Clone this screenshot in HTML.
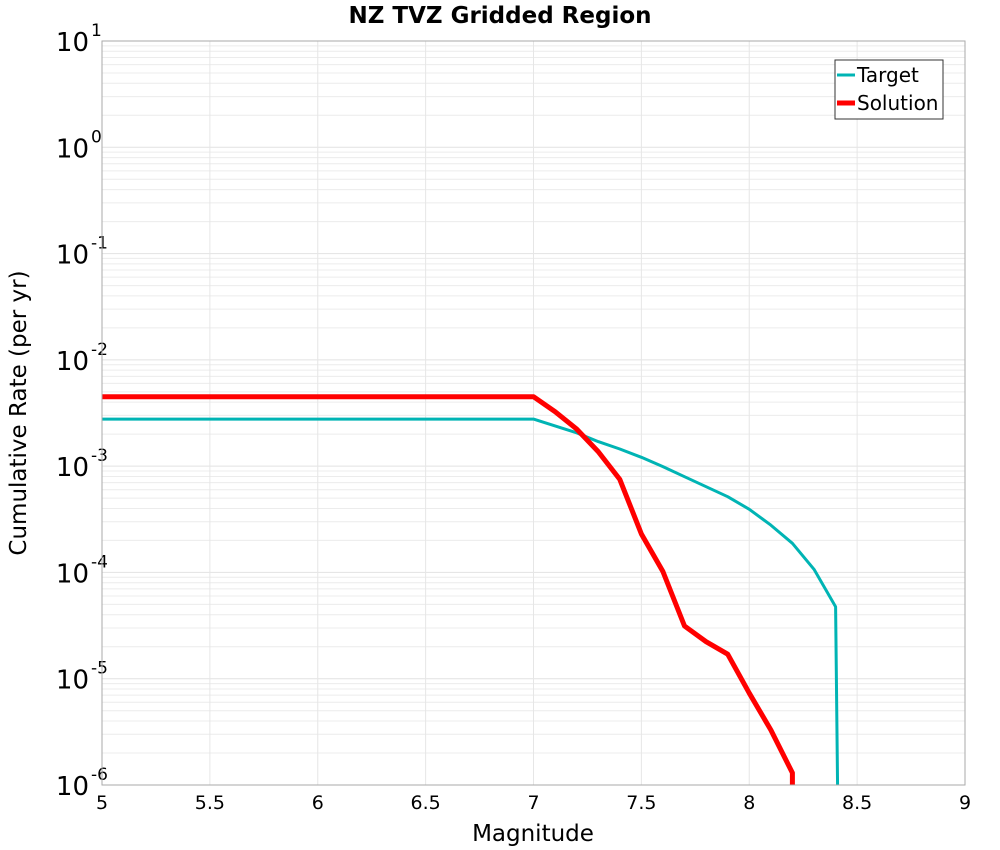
<!DOCTYPE html>
<html><head><meta charset="utf-8"><style>
html,body{margin:0;padding:0;background:#fff;overflow:hidden;width:1000px;height:850px;}
svg{display:block;}
svg text{font-family:"DejaVu Sans","Liberation Sans",sans-serif;}
</style></head><body>
<svg id="chart" width="1000" height="850" xmlns="http://www.w3.org/2000/svg">
<text x="500" y="23" text-anchor="middle" font-size="23" font-weight="bold">NZ TVZ Gridded Region</text>
<g id="grid"></g>
<g id="yticks"></g>
<g id="xticks"></g>
<defs><clipPath id="clip"><rect x="102" y="41" width="863" height="744"/></clipPath></defs>
<g id="series" clip-path="url(#clip)"></g>
<rect x="102" y="41" width="863" height="744" fill="none" stroke="#aaa" stroke-width="1"/>
<text x="533" y="841" text-anchor="middle" font-size="23">Magnitude</text>
<text transform="translate(26,413) rotate(-90)" text-anchor="middle" font-size="23">Cumulative Rate (per yr)</text>
<g>
<rect x="835" y="60" width="108" height="59" fill="#fff" stroke="#333" stroke-width="1"/>
<line x1="837" y1="75" x2="855" y2="75" stroke="#00b4b4" stroke-width="3"/>
<text x="857" y="82" font-size="20">Target</text>
<line x1="837" y1="103" x2="855" y2="103" stroke="#ff0000" stroke-width="5"/>
<text x="857" y="110" font-size="20">Solution</text>
</g>
</svg>
<script>
const targetMag = [5.0, 7.0, 7.1, 7.2, 7.3, 7.4, 7.5, 7.6, 7.7, 7.8, 7.9, 8.0, 8.1, 8.2, 8.3, 8.4, 8.42];
const targetRate = [2.77e-3, 2.77e-3, 2.39e-3, 2.06e-3, 1.70e-3, 1.45e-3, 1.21e-3, 9.9e-4, 7.96e-4, 6.4e-4, 5.16e-4, 3.93e-4, 2.79e-4, 1.88e-4, 1.07e-4, 4.76e-5, 1e-8];
const solutionMag = [5.0, 7.0, 7.1, 7.2, 7.3, 7.4, 7.5, 7.6, 7.7, 7.8, 7.9, 8.0, 8.1, 8.2, 8.2];
const solutionRate = [4.5e-3, 4.5e-3, 3.25e-3, 2.23e-3, 1.37e-3, 7.5e-4, 2.3e-4, 1.02e-4, 3.13e-5, 2.23e-5, 1.7e-5, 7.3e-6, 3.3e-6, 1.3e-6, 1e-8];
const xTicks = [5, 5.5, 6, 6.5, 7, 7.5, 8, 8.5, 9];
const xTickLabels = ["5","5.5","6","6.5","7","7.5","8","8.5","9"];
const yExps = [1, 0, -1, -2, -3, -4, -5, -6];

const NS = "http://www.w3.org/2000/svg";
const X0 = 102, X1 = 965, Y0 = 41, Y1 = 785;
function xs(m){ return X0 + (m - 5) / 4 * (X1 - X0); }
function ys(v){ return Y1 - (Math.log10(v) + 6) / 7 * (Y1 - Y0); }
function mk(tag, attrs, parent){ const e = document.createElementNS(NS, tag); for (const k in attrs) e.setAttribute(k, attrs[k]); parent.appendChild(e); return e; }

const grid = document.getElementById('grid');
for (let d = -6; d < 1; d++) {
  for (let k = 2; k <= 9; k++) {
    const y = ys(k * Math.pow(10, d));
    const l = mk('line', {x1: X0, x2: X1, y1: y, y2: y, stroke: '#ececec', 'stroke-width': 1}, grid);
    
    
  }
}
yExps.forEach(e => {
  const y = ys(Math.pow(10, e));
  const l = mk('line', {x1: X0, x2: X1, y1: y, y2: y, stroke: '#e2e2e2', 'stroke-width': 1}, grid);
  
  
});
xTicks.forEach(t => {
  const x = xs(t);
  const l = mk('line', {x1: x, x2: x, y1: Y0, y2: Y1, stroke: '#e6e6e6', 'stroke-width': 1}, grid);
  
  
});

const yt = document.getElementById('yticks');
yExps.forEach(e => {
  const y = ys(Math.pow(10, e));
  const t = mk('text', {x: 89, y: y + 10, 'text-anchor': 'end', 'font-size': 26}, yt);
  
  
  t.textContent = '10';
  const s = mk('text', {x: 91, y: y - 5, 'font-size': 17}, yt);
  
  
  s.textContent = String(e);
});

const xt = document.getElementById('xticks');
xTicks.forEach((t, i) => {
  const tx = mk('text', {x: xs(t), y: 809, 'text-anchor': 'middle', 'font-size': 19}, xt);
  
  
  tx.textContent = xTickLabels[i];
});

const sg = document.getElementById('series');
function pts(ms, rs){ return ms.map((m, i) => xs(m).toFixed(1) + ',' + ys(rs[i]).toFixed(1)).join(' '); }
const tl = mk('polyline', {points: pts(targetMag, targetRate), fill: 'none', stroke: '#00b4b4', 'stroke-width': 3, 'stroke-linejoin': 'round'}, sg);


const sl = mk('polyline', {points: pts(solutionMag, solutionRate), fill: 'none', stroke: '#ff0000', 'stroke-width': 5, 'stroke-linejoin': 'round'}, sg);


</script>
</body></html>
